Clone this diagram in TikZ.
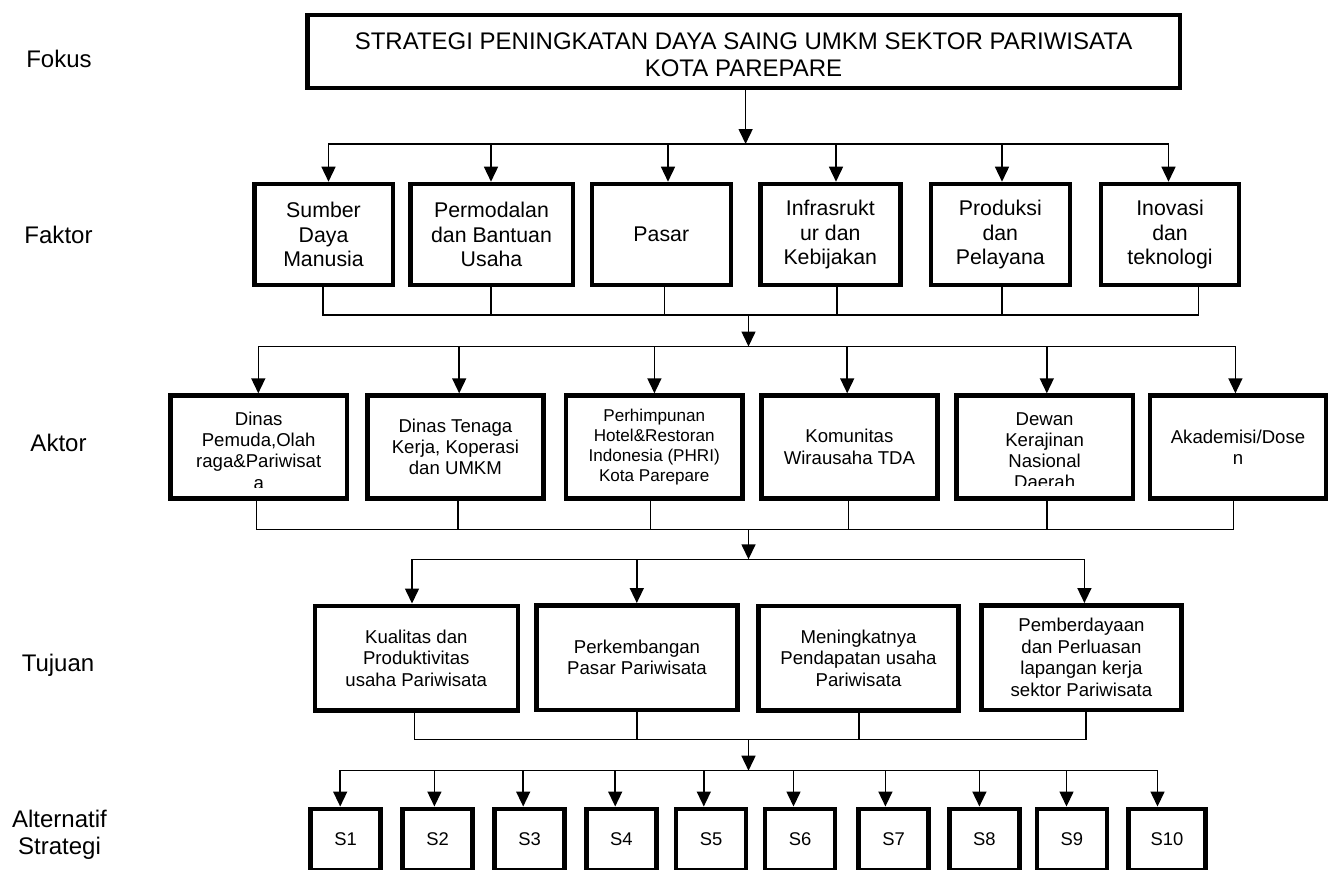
\documentclass[tikz,border=0pt]{standalone}
\usepackage{fontspec}
\setmainfont{Liberation Sans}
\usetikzlibrary{arrows.meta,calc}
\newcommand{\arrin}[3]{\path (#1.north) ++(#2,0) coordinate (#1-in);
  \draw[arr] (#1-in |- #3) -- (#1-in);}
\newcommand{\lineout}[3]{\path (#1.south) ++(#2,0) coordinate (#1-out);
  \draw[conn] (#1-out) -- (#1-out |- #3);}
\begin{document}
\begin{tikzpicture}[x=0.5pt,y=-0.5pt,
  box/.style={draw,line width=2.25pt,inner sep=0pt,align=center},
  conn/.style={line width=0.75pt,line cap=rect},
  arr/.style={line width=0.75pt,-{Triangle[length=7.5pt,width=7pt]}},
  lab/.style={font=\fontsize{12}{13.3}\selectfont,align=center},
  fbox/.style={box,minimum height=50.55pt,font=\fontsize{10.65}{12.25}\selectfont},
  abox/.style={box,minimum height=51.35pt,minimum width=88.15pt,font=\fontsize{9.3}{10.6}\selectfont},
  atext/.style={align=center,inner sep=0pt,font=\fontsize{9.3}{10.6}\selectfont},
  tbox/.style={box,minimum height=52.25pt,font=\fontsize{9.3}{10.75}\selectfont},
  sbox/.style={box,minimum height=30.5pt,minimum width=35pt,font=\fontsize{9.2}{11}\selectfont}]
\useasboundingbox (0,0) rectangle (1336,869);
\fill[white] (0,0) rectangle (1336,869);
\clip (0,0) rectangle (1336,869);

% row labels
\node[lab] (lfokus) at (59,59) {Fokus};
\node[lab] (lfaktor) at (58.5,235) {Faktor};
\node[lab] (laktor) at (58.5,443.3) {Aktor};
\node[lab] (ltujuan) at (58,665) {Tujuan};
\node[lab] (lalt) at (59.5,835) {Alternatif\\Strategi};

% focus
\node[box,minimum width=436.25pt,minimum height=36.4pt] (t) at (743.5,51.4) {};
\node[lab,inner sep=0pt] (ttxt) at ([yshift=-1.8pt]t.center)
  {STRATEGI PENINGKATAN DAYA SAING UMKM SEKTOR PARIWISATA\\KOTA PAREPARE};

% bus levels
\coordinate (fb) at (0,144);
\coordinate (fj) at (0,315);
\coordinate (ab) at (0,346.5);
\coordinate (aj) at (0,529.3);
\coordinate (tb) at (0,559.3);
\coordinate (tj) at (0,739.3);
\coordinate (sb) at (0,770.7);
\coordinate (m) at (748.5,0);

% factors
\node[fbox,minimum width=69.25pt] (f1) at (323.5,234.5) {Sumber\\Daya\\Manusia};
\node[fbox,minimum width=81.25pt] (f2) at (491.5,234.5) {Permodalan\\dan Bantuan\\Usaha};
\node[fbox,minimum width=69.5pt] (f3) at (661.3,234.5) {Pasar};
\node[fbox,minimum width=70pt] (f4) at (830.3,234.5) {Infrasrukt\\ur dan\\Kebijakan};
\node[fbox,minimum width=69.5pt] (f5) at (1000.3,234.5) {Produksi\\dan\\Pelayana};
\node[fbox,minimum width=69pt] (f6) at (1170,234.5) {Inovasi\\dan\\teknologi};

% actors
\node[abox] (a1) at (258.7,446.9) {};
\begin{scope}
  \clip (a1.north west) rectangle ([yshift=6.75pt]a1.south east);
  \node[atext] (a1txt) at ([yshift=-1.85pt]a1.center) {Dinas\\Pemuda,Olah\\raga\&Pariwisat\\a};
\end{scope}
\node[abox] (a2) at (455.4,446.9) {Dinas Tenaga\\Kerja, Koperasi\\dan UMKM};
\node[abox,font=\fontsize{8.55}{10}\selectfont] (a3) at (654.2,446.9) {Perhimpunan\\Hotel\&Restoran\\Indonesia (PHRI)\\Kota Parepare};
\node[abox] (a4) at (849.4,446.9) {Komunitas\\Wirausaha TDA};
\node[abox] (a5) at (1044.6,446.9) {};
\begin{scope}
  \clip (a5.north west) rectangle ([yshift=7.5pt]a5.south east);
  \node[atext] (a5txt) at ([yshift=-1.85pt]a5.center) {Dewan\\Kerajinan\\Nasional\\Daerah};
\end{scope}
\node[abox] (a6) at (1238,446.9) {Akademisi/Dose\\n};

% goals
\node[tbox,minimum width=101.5pt] (t1) at (416.3,658) {Kualitas dan\\Produktivitas\\usaha Pariwisata};
\node[tbox,minimum width=100.4pt] (t2) at (637,657.5) {Perkembangan\\Pasar Pariwisata};
\node[tbox,minimum width=99.9pt] (t3) at (858.5,658) {Meningkatnya\\Pendapatan usaha\\Pariwisata};
\node[tbox,minimum width=100.1pt] (t4) at (1081.4,657.5) {Pemberdayaan\\dan Perluasan\\lapangan kerja\\sektor Pariwisata};

% strategies
\node[sbox] (s1) at (345.5,839.25) {S1};
\node[sbox] (s2) at (437.5,839.25) {S2};
\node[sbox] (s3) at (529.7,839.25) {S3};
\node[sbox] (s4) at (621.3,839.25) {S4};
\node[sbox] (s5) at (711.2,839.25) {S5};
\node[sbox] (s6) at (800.1,839.25) {S6};
\node[sbox] (s7) at (893.5,839.25) {S7};
\node[sbox] (s8) at (984.3,839.25) {S8};
\node[sbox] (s9) at (1071.8,839.25) {S9};
\node[sbox,minimum width=38.65pt] (s10) at (1166.9,839.25) {S10};

% focus -> factors
\path (t.south) ++(2.1,0) coordinate (t-out);
\draw[arr] (t-out) -- (t-out |- fb);
\arrin{f1}{5}{fb}
\arrin{f2}{-0.5}{fb}
\arrin{f3}{6.7}{fb}
\arrin{f4}{5.7}{fb}
\arrin{f5}{1.7}{fb}
\arrin{f6}{-1.5}{fb}
\draw[conn] (f1-in |- fb) -- (f6-in |- fb);

% factors -> actors
\lineout{f1}{-0.5}{fj}
\lineout{f2}{-0.5}{fj}
\lineout{f3}{3.2}{fj}
\lineout{f4}{6.7}{fj}
\lineout{f5}{1.7}{fj}
\lineout{f6}{28.5}{fj}
\draw[conn] (f1-out |- fj) -- (f6-out |- fj);
\draw[arr] (m |- fj) -- (m |- ab);
\arrin{a1}{-0.4}{ab}
\arrin{a2}{3.8}{ab}
\arrin{a3}{0.2}{ab}
\arrin{a4}{-2.2}{ab}
\arrin{a5}{2.2}{ab}
\arrin{a6}{-2.6}{ab}
\draw[conn] (a1-in |- ab) -- (a6-in |- ab);

% actors -> goals
\lineout{a1}{-2.3}{aj}
\lineout{a2}{2.6}{aj}
\lineout{a3}{-3.6}{aj}
\lineout{a4}{-1}{aj}
\lineout{a5}{2.2}{aj}
\lineout{a6}{-4.6}{aj}
\draw[conn] (a1-out |- aj) -- (a6-out |- aj);
\draw[arr] (m |- aj) -- (m |- tb);
\arrin{t1}{-4.3}{tb}
\arrin{t2}{-0.2}{tb}
\arrin{t4}{3}{tb}
\draw[conn] (t1-in |- tb) -- (t4-in |- tb);

% goals -> strategies
\lineout{t1}{-2}{tj}
\lineout{t2}{0}{tj}
\lineout{t3}{0.5}{tj}
\lineout{t4}{4.8}{tj}
\draw[conn] (t1-out |- tj) -- (t4-out |- tj);
\draw[arr] (m |- tj) -- (m |- sb);
\arrin{s1}{-5.3}{sb}
\arrin{s2}{-3.1}{sb}
\arrin{s3}{-6.5}{sb}
\arrin{s4}{-6.1}{sb}
\arrin{s5}{-7.4}{sb}
\arrin{s6}{-6.6}{sb}
\arrin{s7}{-8.1}{sb}
\arrin{s8}{-4.9}{sb}
\arrin{s9}{-5.3}{sb}
\arrin{s10}{-9.4}{sb}
\draw[conn] (s1-in |- sb) -- (s10-in |- sb);
\end{tikzpicture}
\end{document}
